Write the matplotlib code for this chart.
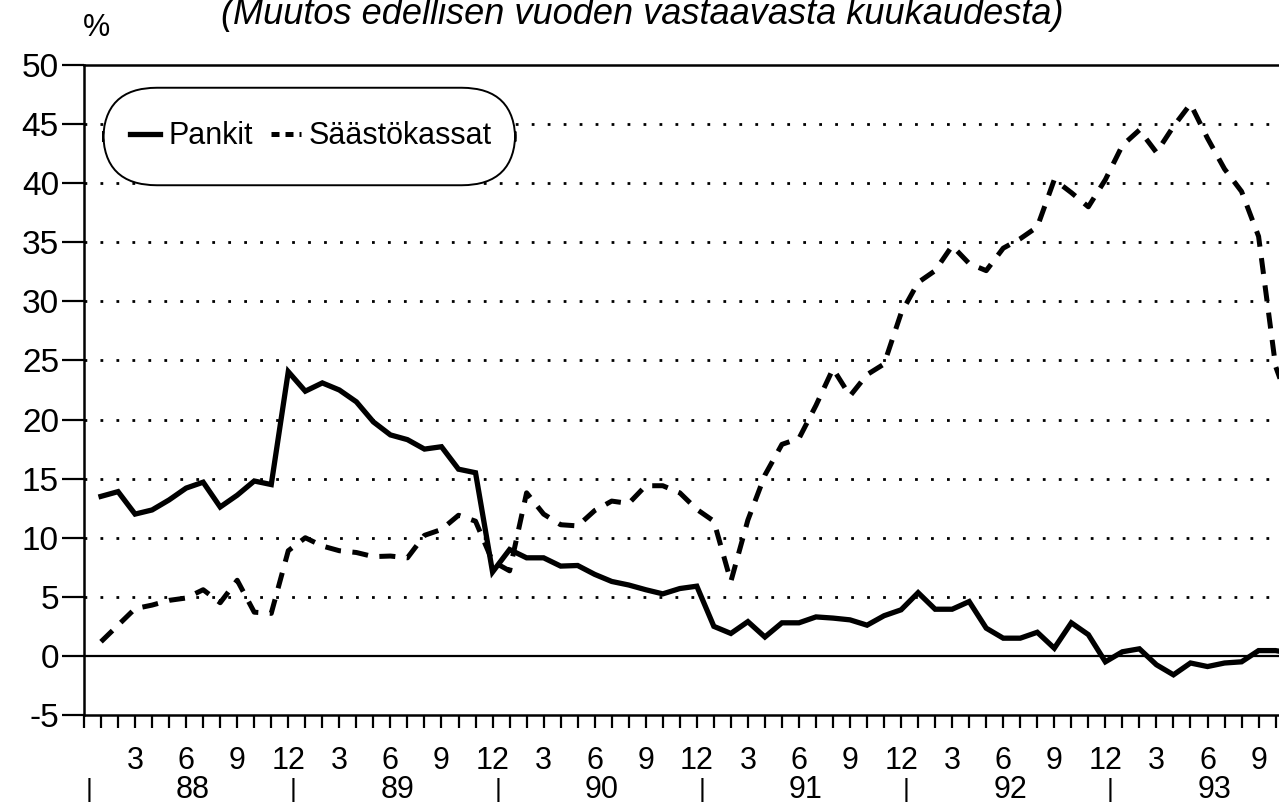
import matplotlib
matplotlib.use("Agg")
import matplotlib.pyplot as plt
from matplotlib.patches import FancyBboxPatch
from matplotlib.lines import Line2D

plt.rcParams['font.family'] = ['Liberation Sans', 'DejaVu Sans']

# kuukaudet: 1 = tammikuu 1988 ... 71 = marraskuu 1993
kuukaudet = list(range(1, 72))

pankit = [13.5, 13.9, 12.0, 12.35, 13.2, 14.2, 14.7, 12.6, 13.6, 14.8, 14.5, 24.05,
          22.4, 23.1, 22.5, 21.5, 19.8, 18.7, 18.3, 17.5, 17.7, 15.8, 15.5, 7.1,
          9.0, 8.3, 8.3, 7.6, 7.65, 6.9, 6.3, 6.0, 5.6, 5.25, 5.7, 5.9,
          2.5, 1.9, 2.9, 1.6, 2.8, 2.8, 3.3, 3.2, 3.05, 2.6, 3.4, 3.9,
          5.35, 3.95, 3.95, 4.6, 2.35, 1.5, 1.5, 2.0, 0.65, 2.8, 1.8, -0.5,
          0.35, 0.6, -0.75, -1.6, -0.6, -0.9, -0.6, -0.5, 0.45, 0.45, 0.2]

saastokassat = [1.2, 2.6, 4.0, 4.3, 4.7, 4.9, 5.6, 4.5, 6.4, 3.7, 3.6, 8.9,
                10.0, 9.3, 8.9, 8.75, 8.4, 8.45, 8.3, 10.2, 10.7, 11.9, 11.4, 8.0,
                7.2, 13.8, 12.0, 11.1, 11.0, 12.3, 13.1, 12.9, 14.4, 14.4, 13.8, 12.4,
                11.4, 6.3, 11.5, 15.3, 17.9, 18.4, 21.2, 24.3, 22.0, 23.8, 24.7, 29.0,
                31.6, 32.6, 34.7, 33.2, 32.6, 34.5, 35.3, 36.3, 40.3, 39.2, 38.0, 40.3,
                43.2, 44.5, 42.6, 44.8, 46.7, 43.8, 41.2, 39.3, 35.5, 24.5, 20.5]

kk_tikit = [3, 6, 9, 12] * 6
vuodet = ['88', '89', '90', '91', '92', '93']
y_tikit = list(range(-5, 51, 5))

fig = plt.figure(figsize=(12.79, 8.07), dpi=100)
ax = fig.add_axes([84 / 1279, 1 - 715 / 807, 1195 / 1279, 650 / 807])

# pisteviivaiset apuviivat
for y in y_tikit:
    if y in (-5, 0, 50):
        continue
    ax.axhline(y, color='black', lw=2, linestyle=(0, (1, 4.75)), zorder=1)
ax.axhline(0, color='black', lw=1.6, zorder=1)

ax.plot(kuukaudet, pankit, color='black', lw=3.8, solid_joinstyle='miter', zorder=3)
ax.plot(kuukaudet, saastokassat, color='black', lw=3.6, dashes=(3.2, 2.3), zorder=3)

ax.set_xlim(0, 70.2)
ax.set_ylim(-5, 50)

ax.spines['right'].set_visible(False)
for s in ('left', 'top', 'bottom'):
    ax.spines[s].set_linewidth(1.8)

ax.set_yticks(y_tikit)
ax.set_yticklabels([str(v) for v in y_tikit])
ax.tick_params(axis='y', direction='out', length=16, width=1.6, pad=2, labelsize=24)

ax.set_xticks(range(0, 71), minor=True)
ax.set_xticks(range(3, 71, 3))
ax.set_xticklabels([str(k) for k in kk_tikit[:len(range(3, 71, 3))]])
ax.tick_params(axis='x', which='both', direction='out', length=9, width=1.6)
ax.tick_params(axis='x', which='major', pad=13, labelsize=22)

# vuosirivi
tr = ax.get_xaxis_transform()
for i, v in enumerate(vuodet):
    ax.text(12 * i + 0.3, -0.115, '|', transform=tr, ha='center', va='center', fontsize=19)
    ax.text(12 * i + 6.4, -0.115, v, transform=tr, ha='center', va='center', fontsize=22)

# selite pyöristetyssä laatikossa
box = FancyBboxPatch((0.016, 0.815), 0.345, 0.15, transform=ax.transAxes,
                     boxstyle='round,pad=0,rounding_size=0.045',
                     mutation_aspect=1195 / 650,
                     facecolor='white', edgecolor='black', lw=1.4, zorder=4)
ax.add_patch(box)
handles = [Line2D([], [], color='black', lw=3.8),
           Line2D([], [], color='black', lw=3.6, dashes=(1.6, 1.2))]
leg = ax.legend(handles, ['Pankit', 'Säästökassat'], loc='center',
                bbox_to_anchor=(0.19, 0.89), ncol=2, frameon=False,
                fontsize=22, handlelength=1.0, handletextpad=0.25, columnspacing=0.6)
leg.set_zorder(5)

fig.text(97 / 1279, 1 - 28 / 807, '%', ha='center', va='center', fontsize=22)
fig.text(642 / 1279, 1 - 24 / 807, '(Muutos edellisen vuoden vastaavasta kuukaudesta)',
         ha='center', va='baseline', fontsize=26, style='italic')

fig.savefig('out.png', dpi=100)
